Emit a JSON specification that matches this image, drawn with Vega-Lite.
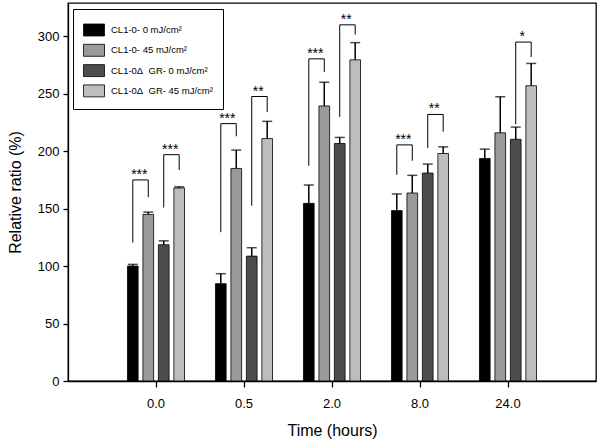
{
  "$schema": "https://vega.github.io/schema/vega-lite/v6.json",
  "width": 528,
  "height": 378,
  "autosize": {"type": "none"},
  "padding": {"left": 68, "top": 3, "right": 4, "bottom": 63},
  "background": "white",
  "config": {
    "font": "Liberation Sans",
    "view": {"stroke": "#000", "strokeWidth": 1.3},
    "axis": {"domainColor": "#000", "tickColor": "#000", "labelColor": "#000", "titleColor": "#000", "grid": false, "labelFont": "Liberation Sans", "titleFont": "Liberation Sans", "titleFontWeight": "normal", "domainWidth": 1.3, "tickWidth": 1.3}
  },
  "datasets": {
    "bars": [
      {"time": "0.0", "series": "CL1-0- 0 mJ/cm²", "value": 100, "err": 101.5},
      {"time": "0.0", "series": "CL1-0- 45 mJ/cm²", "value": 145, "err": 147},
      {"time": "0.0", "series": "CL1-0Δ\u00a0 GR- 0 mJ/cm²", "value": 118.6, "err": 122},
      {"time": "0.0", "series": "CL1-0Δ\u00a0 GR- 45 mJ/cm²", "value": 168, "err": 169},
      {"time": "0.5", "series": "CL1-0- 0 mJ/cm²", "value": 84.7, "err": 93.4},
      {"time": "0.5", "series": "CL1-0- 45 mJ/cm²", "value": 185, "err": 201},
      {"time": "0.5", "series": "CL1-0Δ\u00a0 GR- 0 mJ/cm²", "value": 108.7, "err": 116},
      {"time": "0.5", "series": "CL1-0Δ\u00a0 GR- 45 mJ/cm²", "value": 211, "err": 226},
      {"time": "2.0", "series": "CL1-0- 0 mJ/cm²", "value": 154.6, "err": 170.6},
      {"time": "2.0", "series": "CL1-0- 45 mJ/cm²", "value": 239.4, "err": 260},
      {"time": "2.0", "series": "CL1-0Δ\u00a0 GR- 0 mJ/cm²", "value": 206.7, "err": 212},
      {"time": "2.0", "series": "CL1-0Δ\u00a0 GR- 45 mJ/cm²", "value": 279.5, "err": 294.5},
      {"time": "8.0", "series": "CL1-0- 0 mJ/cm²", "value": 148.3, "err": 162.8},
      {"time": "8.0", "series": "CL1-0- 45 mJ/cm²", "value": 163.6, "err": 179},
      {"time": "8.0", "series": "CL1-0Δ\u00a0 GR- 0 mJ/cm²", "value": 181, "err": 188.8},
      {"time": "8.0", "series": "CL1-0Δ\u00a0 GR- 45 mJ/cm²", "value": 198, "err": 203.8},
      {"time": "24.0", "series": "CL1-0- 0 mJ/cm²", "value": 193.7, "err": 201.8},
      {"time": "24.0", "series": "CL1-0- 45 mJ/cm²", "value": 216, "err": 247.4},
      {"time": "24.0", "series": "CL1-0Δ\u00a0 GR- 0 mJ/cm²", "value": 210.4, "err": 221},
      {"time": "24.0", "series": "CL1-0Δ\u00a0 GR- 45 mJ/cm²", "value": 257, "err": 276.4}
    ],
    "brackets": [
      {"bracket": "0.0a", "time": "0.0", "series": "CL1-0- 0 mJ/cm²", "v": 120.5, "ord": 1},
      {"bracket": "0.0a", "time": "0.0", "series": "CL1-0- 0 mJ/cm²", "v": 175, "ord": 2},
      {"bracket": "0.0a", "time": "0.0", "series": "CL1-0- 45 mJ/cm²", "v": 175, "ord": 3},
      {"bracket": "0.0a", "time": "0.0", "series": "CL1-0- 45 mJ/cm²", "v": 160, "ord": 4},
      {"bracket": "0.0b", "time": "0.0", "series": "CL1-0Δ\u00a0 GR- 0 mJ/cm²", "v": 151, "ord": 1},
      {"bracket": "0.0b", "time": "0.0", "series": "CL1-0Δ\u00a0 GR- 0 mJ/cm²", "v": 197, "ord": 2},
      {"bracket": "0.0b", "time": "0.0", "series": "CL1-0Δ\u00a0 GR- 45 mJ/cm²", "v": 197, "ord": 3},
      {"bracket": "0.0b", "time": "0.0", "series": "CL1-0Δ\u00a0 GR- 45 mJ/cm²", "v": 183.6, "ord": 4},
      {"bracket": "0.5a", "time": "0.5", "series": "CL1-0- 0 mJ/cm²", "v": 129.5, "ord": 1},
      {"bracket": "0.5a", "time": "0.5", "series": "CL1-0- 0 mJ/cm²", "v": 224, "ord": 2},
      {"bracket": "0.5a", "time": "0.5", "series": "CL1-0- 45 mJ/cm²", "v": 224, "ord": 3},
      {"bracket": "0.5a", "time": "0.5", "series": "CL1-0- 45 mJ/cm²", "v": 213, "ord": 4},
      {"bracket": "0.5b", "time": "0.5", "series": "CL1-0Δ\u00a0 GR- 0 mJ/cm²", "v": 152.6, "ord": 1},
      {"bracket": "0.5b", "time": "0.5", "series": "CL1-0Δ\u00a0 GR- 0 mJ/cm²", "v": 247.6, "ord": 2},
      {"bracket": "0.5b", "time": "0.5", "series": "CL1-0Δ\u00a0 GR- 45 mJ/cm²", "v": 247.6, "ord": 3},
      {"bracket": "0.5b", "time": "0.5", "series": "CL1-0Δ\u00a0 GR- 45 mJ/cm²", "v": 234, "ord": 4},
      {"bracket": "2.0a", "time": "2.0", "series": "CL1-0- 0 mJ/cm²", "v": 187.3, "ord": 1},
      {"bracket": "2.0a", "time": "2.0", "series": "CL1-0- 0 mJ/cm²", "v": 280.4, "ord": 2},
      {"bracket": "2.0a", "time": "2.0", "series": "CL1-0- 45 mJ/cm²", "v": 280.4, "ord": 3},
      {"bracket": "2.0a", "time": "2.0", "series": "CL1-0- 45 mJ/cm²", "v": 269, "ord": 4},
      {"bracket": "2.0b", "time": "2.0", "series": "CL1-0Δ\u00a0 GR- 0 mJ/cm²", "v": 229.8, "ord": 1},
      {"bracket": "2.0b", "time": "2.0", "series": "CL1-0Δ\u00a0 GR- 0 mJ/cm²", "v": 310, "ord": 2},
      {"bracket": "2.0b", "time": "2.0", "series": "CL1-0Δ\u00a0 GR- 45 mJ/cm²", "v": 310, "ord": 3},
      {"bracket": "2.0b", "time": "2.0", "series": "CL1-0Δ\u00a0 GR- 45 mJ/cm²", "v": 301.5, "ord": 4},
      {"bracket": "8.0a", "time": "8.0", "series": "CL1-0- 0 mJ/cm²", "v": 179.5, "ord": 1},
      {"bracket": "8.0a", "time": "8.0", "series": "CL1-0- 0 mJ/cm²", "v": 205.5, "ord": 2},
      {"bracket": "8.0a", "time": "8.0", "series": "CL1-0- 45 mJ/cm²", "v": 205.5, "ord": 3},
      {"bracket": "8.0a", "time": "8.0", "series": "CL1-0- 45 mJ/cm²", "v": 191.7, "ord": 4},
      {"bracket": "8.0b", "time": "8.0", "series": "CL1-0Δ\u00a0 GR- 0 mJ/cm²", "v": 202.7, "ord": 1},
      {"bracket": "8.0b", "time": "8.0", "series": "CL1-0Δ\u00a0 GR- 0 mJ/cm²", "v": 232, "ord": 2},
      {"bracket": "8.0b", "time": "8.0", "series": "CL1-0Δ\u00a0 GR- 45 mJ/cm²", "v": 232, "ord": 3},
      {"bracket": "8.0b", "time": "8.0", "series": "CL1-0Δ\u00a0 GR- 45 mJ/cm²", "v": 217, "ord": 4},
      {"bracket": "24.0b", "time": "24.0", "series": "CL1-0Δ\u00a0 GR- 0 mJ/cm²", "v": 223.5, "ord": 1},
      {"bracket": "24.0b", "time": "24.0", "series": "CL1-0Δ\u00a0 GR- 0 mJ/cm²", "v": 295, "ord": 2},
      {"bracket": "24.0b", "time": "24.0", "series": "CL1-0Δ\u00a0 GR- 45 mJ/cm²", "v": 295, "ord": 3},
      {"bracket": "24.0b", "time": "24.0", "series": "CL1-0Δ\u00a0 GR- 45 mJ/cm²", "v": 282, "ord": 4}
    ],
    "stars": [
      {"time": "0.0", "series": "CL1-0- 0 mJ/cm²", "top": 175, "label": "***"},
      {"time": "0.0", "series": "CL1-0Δ\u00a0 GR- 0 mJ/cm²", "top": 197, "label": "***"},
      {"time": "0.5", "series": "CL1-0- 0 mJ/cm²", "top": 224, "label": "***"},
      {"time": "0.5", "series": "CL1-0Δ\u00a0 GR- 0 mJ/cm²", "top": 247.6, "label": "**"},
      {"time": "2.0", "series": "CL1-0- 0 mJ/cm²", "top": 280.4, "label": "***"},
      {"time": "2.0", "series": "CL1-0Δ\u00a0 GR- 0 mJ/cm²", "top": 310, "label": "**"},
      {"time": "8.0", "series": "CL1-0- 0 mJ/cm²", "top": 205.5, "label": "***"},
      {"time": "8.0", "series": "CL1-0Δ\u00a0 GR- 0 mJ/cm²", "top": 232, "label": "**"},
      {"time": "24.0", "series": "CL1-0Δ\u00a0 GR- 0 mJ/cm²", "top": 295, "label": "*"}
    ]
  },
  "encoding": {
    "x": {
      "field": "time", "type": "nominal", "sort": ["0.0", "0.5", "2.0", "8.0", "24.0"],
      "scale": {"paddingInner": 0, "paddingOuter": 0.5},
      "axis": {"title": "Time (hours)", "labelAngle": 0, "labelFontSize": 13, "titleFontSize": 16, "tickSize": 6, "labelPadding": 10, "titlePadding": 12}
    },
    "xOffset": {
      "field": "series", "type": "nominal",
      "scale": {"domain": ["CL1-0- 0 mJ/cm²", "CL1-0- 45 mJ/cm²", "CL1-0Δ\u00a0 GR- 0 mJ/cm²", "CL1-0Δ\u00a0 GR- 45 mJ/cm²"], "paddingInner": 0.31, "paddingOuter": 1.54}
    }
  },
  "layer": [
    {
      "data": {"name": "bars"},
      "mark": {"type": "bar", "stroke": "#000", "strokeWidth": 0.8},
      "encoding": {
        "y": {
          "field": "value", "type": "quantitative",
          "scale": {"domain": [0, 329], "nice": false},
          "axis": {"title": "Relative ratio (%)", "values": [0, 50, 100, 150, 200, 250, 300], "labelFontSize": 13, "titleFontSize": 16, "tickSize": 5, "labelPadding": 4, "titlePadding": 14}
        },
        "fill": {
          "field": "series", "type": "nominal",
          "scale": {"domain": ["CL1-0- 0 mJ/cm²", "CL1-0- 45 mJ/cm²", "CL1-0Δ\u00a0 GR- 0 mJ/cm²", "CL1-0Δ\u00a0 GR- 45 mJ/cm²"], "range": ["#000000", "#9a9a9a", "#4d4d4d", "#bdbdbd"]},
          "legend": {
            "title": null, "orient": "none", "legendX": 5, "legendY": 6,
            "strokeColor": "#000", "fillColor": "white", "padding": 10,
            "symbolType": "M-1,-0.57H1V0.57H-1Z", "symbolSize": 441, "symbolStrokeColor": "#000", "symbolStrokeWidth": 0.8,
            "labelFontSize": 9.5, "labelFont": "Liberation Sans", "labelColor": "#000", "labelOffset": 6, "rowPadding": 1.3, "labelLimit": 300
          }
        }
      }
    },
    {
      "data": {"name": "bars"},
      "mark": {"type": "rule", "color": "#000", "strokeWidth": 1.5},
      "encoding": {
        "y": {"field": "value", "type": "quantitative"},
        "y2": {"field": "err"}
      }
    },
    {
      "data": {"name": "bars"},
      "mark": {"type": "tick", "color": "#000", "thickness": 1.5, "size": 10},
      "encoding": {
        "y": {"field": "err", "type": "quantitative"}
      }
    },
    {
      "data": {"name": "brackets"},
      "mark": {"type": "line", "color": "#000", "strokeWidth": 1},
      "encoding": {
        "y": {"field": "v", "type": "quantitative"},
        "detail": {"field": "bracket"},
        "order": {"field": "ord", "type": "quantitative"}
      }
    },
    {
      "data": {"name": "stars"},
      "mark": {"type": "text", "color": "#000", "fontSize": 14, "dx": 6.5, "dy": -1, "baseline": "alphabetic", "align": "center", "font": "Liberation Sans"},
      "encoding": {
        "y": {"field": "top", "type": "quantitative"},
        "text": {"field": "label"}
      }
    }
  ]
}
